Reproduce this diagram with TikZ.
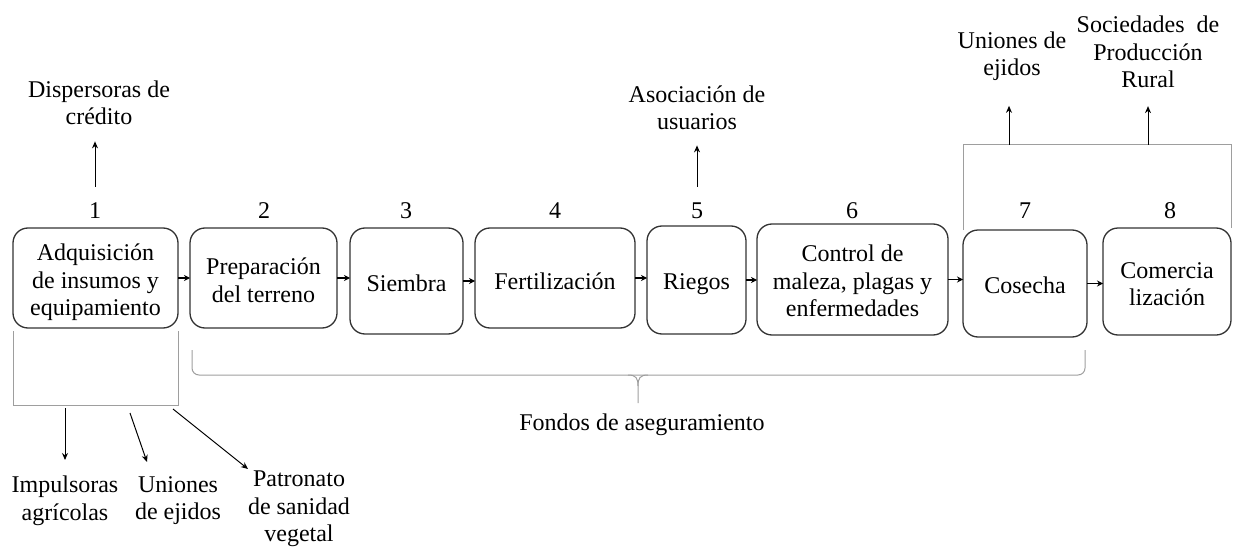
\documentclass[tikz,border=0pt]{standalone}
\usepackage{fontspec}
\setmainfont{Liberation Serif}
\usetikzlibrary{arrows.meta}
\newcommand{\sk}[1]{\rule{0pt}{#1pt}}

\begin{document}
\begin{tikzpicture}[x=1pt,y=-1pt,
    txt/.style={font=\fontsize{24}{27.5}\selectfont, align=center, inner sep=1pt},
    stage/.style={txt, draw=black!80, line width=1.3pt, rounded corners=15pt, outer sep=0pt},
    arr/.style={-{Stealth[length=7pt,width=6pt]}, line width=1pt},
    sarr/.style={-{Stealth[length=6pt,width=6pt]}, line width=1.3pt},
    link/.style={draw=black!38, line width=1pt}]
    \useasboundingbox (0,0) rectangle (1233,548);

    % etapas
    \node[stage, minimum width=165pt, minimum height=100pt] (b1) at (95.5,278) {\sk{26}Adquisición\\de insumos y\\equipamiento};
    \node[stage, minimum width=147pt, minimum height=100pt] (b2) at (263.5,278) {\sk{21.5}Preparación\\del terreno};
    \node[stage, minimum width=113pt, minimum height=106pt] (b3) at (406.5,281) {\sk{21}Siembra};
    \node[stage, minimum width=160pt, minimum height=100pt] (b4) at (555,278) {\sk{22.5}Fertilización};
    \node[stage, minimum width=99pt, minimum height=108pt] (b5) at (696.5,280) {\sk{25}Riegos};
    \node[stage, minimum width=191pt, minimum height=111pt] (b6) at (852.5,279.5) {\sk{20}Control de\\maleza, plagas y\\enfermedades};
    \node[stage, minimum width=124pt, minimum height=107pt] (b7) at (1025,283.5) {\sk{21}Cosecha};
    \node[stage, minimum width=128pt, minimum height=107pt] (b8) at (1167,281.5) {\sk{21.5}Comercia\\lización};

    % numeros
    \node[txt] (n1) at (95,211) {1};
    \node[txt] (n2) at (264,211) {2};
    \node[txt] (n3) at (406,211) {3};
    \node[txt] (n4) at (555,211) {4};
    \node[txt] (n5) at (697,211) {5};
    \node[txt] (n6) at (852,211) {6};
    \node[txt] (n7) at (1025,211) {7};
    \node[txt] (n8) at (1170,211) {8};

    \draw[sarr] (b1.east) -- (b1.east -| b2.west);
    \draw[sarr] (b2.east) -- (b2.east -| b3.west);
    \draw[sarr] (b3.east) -- (b3.east -| b4.west);
    \draw[sarr] (b4.east) -- (b4.east -| b5.west);
    \draw[sarr] (b5.east) -- (b5.east -| b6.west);
    \draw[sarr] (b6.east) -- (b6.east -| b7.west);
    \draw[sarr] (b7.east) -- (b7.east -| b8.west);

    % arriba
    \node[txt] (disp) at (99,103) {Dispersoras de\\crédito};
    \node[txt] (asoc) at (697,108) {Asociación de\\usuarios};
    \node[txt] (uej1) at (1012,56) {Uniones de\\ejidos};
    \node[txt] (spr) at (1148,52) {Sociedades\enspace de\\Producción\\Rural};

    \draw[arr, shorten <=15pt, shorten >=15pt] (n1.north) -- (n1.north |- disp.south);
    \draw[arr, shorten <=15pt, shorten >=14pt] (n5.north) -- (n5.north |- asoc.south);

    \coordinate (q1) at (963,145);
    \coordinate (k1) at (1009,145);
    \coordinate (k2) at (1148,145);
    \draw[link] (b7.north west) -- (q1) -- (b8.north east |- q1) -- (b8.north east);
    \draw[arr, shorten >=24pt] (k1) -- (k1 |- uej1.south);
    \draw[arr, shorten >=17pt] (k2) -- (k2 |- spr.south);

    % abajo
    \coordinate (p1) at (13,405);
    \coordinate (p2) at (178,405);
    \draw[link] (13,331) -- (p1) -- (p2) -- (178,331);

    \node[txt] (imp) at (65,501) {Impulsoras\\agrícolas};
    \node[txt] (uej2) at (178,500.5) {Uniones\\de ejidos};
    \node[txt] (pat) at (299,509) {Patronato\\de sanidad\\vegetal};

    \coordinate (a1) at (65,408);
    \coordinate (a2) at (130,413);
    \coordinate (a3) at (173,409);
    \coordinate (e1) at (65,460);
    \coordinate (e2) at (147,462);
    \coordinate (e3) at (248,469);
    \draw[arr] (a1) -- (e1);
    \draw[arr] (a2) -- (e2);
    \draw[arr] (a3) -- (e3);

    % llave
    \draw[link, rounded corners=7pt] (192,350) -- (192,375) -- (1085,375) -- (1085,350);
    \draw[link] (628,375) .. controls (636,375) and (638,378) .. (638,386) -- (638,403);
    \draw[link] (648,375) .. controls (640,375) and (638,378) .. (638,386);
    \node[txt] (fondos) at (642,425) {Fondos de aseguramiento};

\end{tikzpicture}
\end{document}
